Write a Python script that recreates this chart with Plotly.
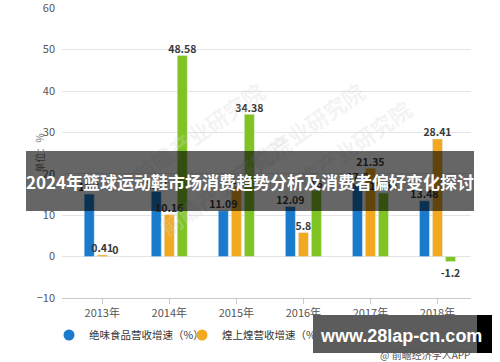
import plotly.graph_objects as go

years = ["2013年", "2014年", "2015年", "2016年", "2017年", "2018年"]
juewei = [15.1, 15.7, 11.09, 12.09, 17.6, 13.48]
huangshanghuang = [0.41, 10.16, 17.0, 5.8, 21.35, 28.41]
zhouheiya = [0, 48.58, 34.38, 16.0, 15.34, -1.2]
series_names = ["绝味食品营收增速（%）", "煌上煌营收增速（%）", "周黑鸭营收增速（%）"]
colors = ["#1a7bcc", "#f2a91f", "#7fc423"]
y_ticks = [-10, 0, 10, 20, 30, 40, 50, 60]

W, H = 500, 362
L, R, T, B = 62, 29, 8, 64
pw, ph = W - L - R, H - T - B

def px(x):
    return (x - L) / pw

def py(y):
    return (H - B - y) / ph

fig = go.Figure()
centers = [-0.194, 0.0, 0.194]
bw = 0.15
for vals, name, col, c in zip([juewei, huangshanghuang, zhouheiya], series_names, colors, centers):
    fig.add_trace(go.Bar(
        x=list(range(len(years))), y=vals, name=name, marker_color=col,
        width=bw, offset=c - bw / 2, showlegend=False, hoverinfo="skip",
    ))
# data labels drawn above all bars
for vals, c in zip([juewei, huangshanghuang, zhouheiya], centers):
    xs = [i + c for i in range(len(years))]
    fig.add_trace(go.Scatter(
        x=xs, y=vals, mode="markers+text", showlegend=False, hoverinfo="skip",
        marker=dict(size=[10 if v < 0 else 0 for v in vals], opacity=0),
        text=[f"{v:g}" for v in vals],
        textposition=["bottom center" if v < 0 else "top center" for v in vals],
        textfont=dict(family="Noto Sans CJK SC", size=10.5, color="#3a3a3a", weight="bold"),
        cliponaxis=False,
    ))
for name, col in zip(series_names, colors):
    fig.add_trace(go.Scatter(
        x=[None], y=[None], mode="markers", name=name,
        marker=dict(symbol="circle", size=11, color=col),
    ))

fig.update_layout(
    width=W, height=H, margin=dict(l=L, r=R, t=T, b=B, autoexpand=False),
    paper_bgcolor="white", plot_bgcolor="white",
    barmode="overlay",
    font=dict(family="Noto Sans CJK SC", color="#555"),
    xaxis=dict(
        range=[-0.6, 5.5], tickmode="array", tickvals=list(range(len(years))), ticktext=years,
        showgrid=False, zeroline=False, showline=True, linecolor="#c8c8c8", linewidth=1,
        ticks="outside", ticklen=5, tickcolor="#c8c8c8", automargin=False,
        tickfont=dict(size=11, color="#555"),
    ),
    yaxis=dict(
        range=[-10, 60.05], tickmode="array", tickvals=y_ticks, automargin=False,
        showgrid=True, gridcolor="#e4e4e4", gridwidth=1, zeroline=False, showline=False,
        tickfont=dict(size=11, color="#555"), ticklabelstandoff=6, ticklabeloverflow="allow",
    ),
    legend=dict(
        orientation="h", x=px(49), y=py(335), xanchor="left", yanchor="middle",
        font=dict(size=10.5, color="#333"), itemwidth=30, bgcolor="rgba(0,0,0,0)",
        entrywidth=88, entrywidthmode="pixels",
    ),
    showlegend=True,
)

# faint background watermarks
for cx, cy in [(123, 72), (373, 72), (150, 245), (420, 210)]:
    fig.add_annotation(
        x=px(cx), y=py(cy), xref="paper", yref="paper", text="前瞻产业研究院",
        showarrow=False, textangle=-35, font=dict(size=22, color="rgba(215,215,215,0.28)", weight="bold"),
    )

# y axis title
fig.add_annotation(
    x=px(29), y=py(153), xref="paper", yref="paper", text="单位：%",
    showarrow=False, textangle=-90, font=dict(size=10, color="#777"),
)

# title band
fig.add_annotation(
    x=px(250), y=py(181), xref="paper", yref="paper",
    text="<b>2024年篮球运动鞋市场消费趋势分析及消费者偏好变化探讨</b>",
    showarrow=False, width=448, height=60, bgcolor="rgba(0,0,0,0.6)", borderpad=0, borderwidth=0,
    font=dict(size=17, color="white", family="Noto Sans CJK SC"),
)

# site watermark box
fig.add_annotation(
    x=px(313), y=py(334), xref="paper", yref="paper", xanchor="left", yanchor="middle",
    text=" ", showarrow=False, width=164, height=38, bgcolor="#5c5c5c", borderpad=0, borderwidth=0,
)
fig.add_annotation(
    x=px(477), y=py(334), xref="paper", yref="paper", xanchor="left", yanchor="middle",
    text=" ", showarrow=False, width=15, height=38, bgcolor="#000000", borderpad=0, borderwidth=0,
)
fig.add_annotation(
    x=px(401), y=py(336), xref="paper", yref="paper", xanchor="center", yanchor="middle",
    text="<b>www.28lap-cn.com</b>", showarrow=False,
    font=dict(size=18, color="white", family="Liberation Sans"),
)
fig.add_annotation(
    x=px(472), y=py(354), xref="paper", yref="paper", xanchor="right", yanchor="middle",
    text="@ 前瞻经济学人APP", showarrow=False, font=dict(size=10, color="#555"),
)

fig.write_html(
    "out.html",
    config={"displayModeBar": False},
    post_script="document.body.style.margin='0';document.body.style.overflow='hidden';",
)
